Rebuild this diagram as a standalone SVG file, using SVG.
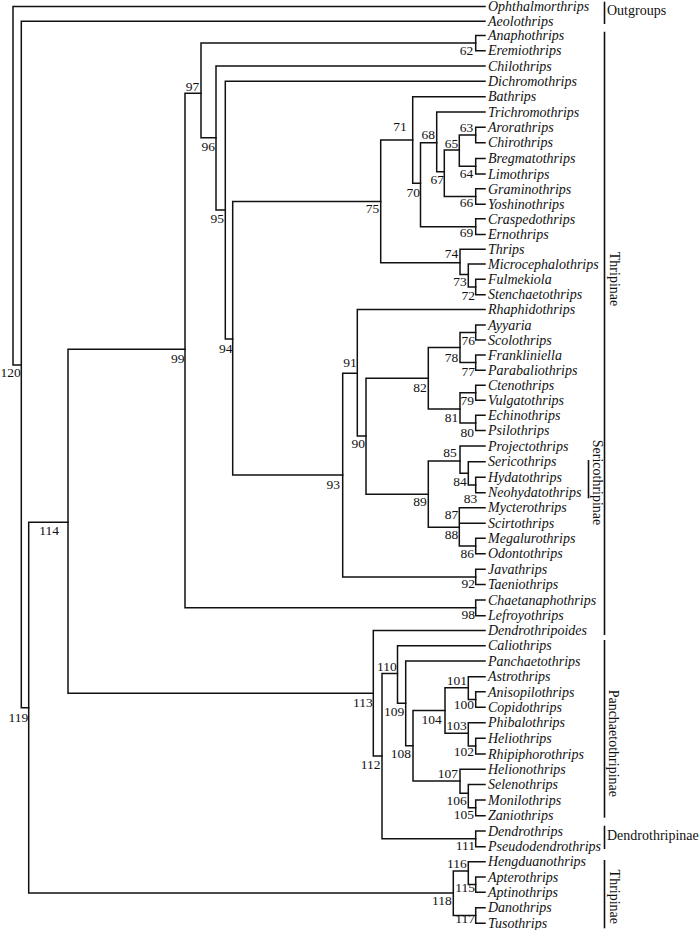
<svg xmlns="http://www.w3.org/2000/svg" width="700" height="930" viewBox="0 0 700 930">
<style>
.tip{font-family:"Liberation Serif","Times New Roman","DejaVu Serif",serif;font-style:italic;font-size:14px;fill:#111}
.num{font-family:"Liberation Serif","Times New Roman","DejaVu Serif",serif;font-size:13.5px;fill:#111;text-anchor:end}
.clade{font-family:"Liberation Serif","Times New Roman","DejaVu Serif",serif;font-size:14px;fill:#111}
.br{stroke:#111;stroke-width:1.5;fill:none;stroke-linecap:square}
.bk{stroke:#111;stroke-width:1.6;fill:none}
</style>
<rect width="700" height="930" fill="#fff"/>
<g id="connectors" class="br">
<path d="M13 6.5V365M13 6.5H485M13 365H21.3"/>
<path d="M21.3 21.3V707.7M21.3 21.3H485M21.3 707.7H28.7"/>
<path d="M28.7 522.3V893M28.7 522.3H68M28.7 893H453.3"/>
<path d="M68 349.3V693.3M68 349.3H185M68 693.3H373.3"/>
<path d="M185 93.3V607.8M185 93.3H201M185 607.8H475.7"/>
<path d="M201 42.9V137.7M201 42.9H475.7M201 137.7H216"/>
<path d="M475.7 35.5V50.7M475.7 35.5H485M475.7 50.7H485"/>
<path d="M216 66V210M216 66H485M216 210H225.3"/>
<path d="M225.3 81.2V339M225.3 81.2H485M225.3 339H232.7"/>
<path d="M232.7 201.5V475M232.7 201.5H380.7M232.7 475H342.7"/>
<path d="M380.7 140V262.7M380.7 140H412.7M380.7 262.7H460"/>
<path d="M412.7 96.7V183.3M412.7 96.7H485M412.7 183.3H420.5"/>
<path d="M420.5 142.7V226.7M420.5 142.7H436.7M420.5 226.7H475.7"/>
<path d="M436.7 112V171.7M436.7 112H485M436.7 171.7H444.3"/>
<path d="M444.3 150V196.5M444.3 150H459.3M444.3 196.5H475.7"/>
<path d="M459.3 135V166.2M459.3 135H475.7M459.3 166.2H475.7"/>
<path d="M475.7 127.3V142.7M475.7 127.3H485M475.7 142.7H485"/>
<path d="M475.7 158.5V174M475.7 158.5H485M475.7 174H485"/>
<path d="M475.7 188.8V204.3M475.7 188.8H485M475.7 204.3H485"/>
<path d="M475.7 218.8V234.5M475.7 218.8H485M475.7 234.5H485"/>
<path d="M460 249.3V274.5M460 249.3H485M460 274.5H468.3"/>
<path d="M468.3 264V287M468.3 264H485M468.3 287H475.7"/>
<path d="M475.7 279.2V294.7M475.7 279.2H485M475.7 294.7H485"/>
<path d="M342.7 373.3V576.9M342.7 373.3H357.3M342.7 576.9H475.7"/>
<path d="M357.3 309.5V436M357.3 309.5H485M357.3 436H366"/>
<path d="M366 378.3V494.3M366 378.3H428.3M366 494.3H428.3"/>
<path d="M428.3 347.6V408.9M428.3 347.6H460M428.3 408.9H460"/>
<path d="M460 332.5V362.6M460 332.5H475.7M460 362.6H475.7"/>
<path d="M475.7 325V340M475.7 325H485M475.7 340H485"/>
<path d="M475.7 355V370.2M475.7 355H485M475.7 370.2H485"/>
<path d="M460 392.8V422.9M460 392.8H475.7M460 422.9H475.7"/>
<path d="M475.7 385.3V400.3M475.7 385.3H485M475.7 400.3H485"/>
<path d="M475.7 415.3V430.5M475.7 415.3H485M475.7 430.5H485"/>
<path d="M428.3 461V527.3M428.3 461H460M428.3 527.3H459.3"/>
<path d="M460 446V473.3M460 446H485M460 473.3H468.3"/>
<path d="M468.3 461.7V485M468.3 461.7H485M468.3 485H475.7"/>
<path d="M475.7 477.3V492.7M475.7 477.3H485M475.7 492.7H485"/>
<path d="M459.3 507.7V546M459.3 507.7H485M459.3 523.3H485M459.3 546H475.7"/>
<path d="M475.7 538.3V553.7M475.7 538.3H485M475.7 553.7H485"/>
<path d="M475.7 569.3V584.5M475.7 569.3H485M475.7 584.5H485"/>
<path d="M475.7 600V615.7M475.7 600H485M475.7 615.7H485"/>
<path d="M373.3 630.5V756M373.3 630.5H485M373.3 756H382"/>
<path d="M382 673.5V838.8M382 673.5H397.5M382 838.8H475.7"/>
<path d="M397.5 645.7V703.3M397.5 645.7H485M397.5 703.3H405.7"/>
<path d="M405.7 661V745.7M405.7 661H485M405.7 745.7H413"/>
<path d="M413 710.5V781M413 710.5H445M413 781H460"/>
<path d="M445 687.7V733.3M445 687.7H468.3M445 733.3H468.3"/>
<path d="M468.3 676.7V699.5M468.3 676.7H485M468.3 699.5H475.7"/>
<path d="M475.7 691.8V707.3M475.7 691.8H485M475.7 707.3H485"/>
<path d="M468.3 722.7V746.1M468.3 722.7H485M468.3 746.1H475.7"/>
<path d="M475.7 738.3V754M475.7 738.3H485M475.7 754H485"/>
<path d="M460 769.3V793.3M460 769.3H485M460 793.3H468.3"/>
<path d="M468.3 784.5V807.8M468.3 784.5H485M468.3 807.8H475.7"/>
<path d="M475.7 800V815.7M475.7 800H485M475.7 815.7H485"/>
<path d="M475.7 831V846.7M475.7 831H485M475.7 846.7H485"/>
<path d="M453.3 871V915.5M453.3 871H468.3M453.3 915.5H475.7"/>
<path d="M468.3 861.7V884.6M468.3 861.7H485M468.3 884.6H475.7"/>
<path d="M475.7 877V892.3M475.7 877H485M475.7 892.3H485"/>
<path d="M475.7 907.7V923.3M475.7 907.7H485M475.7 923.3H485"/>
</g>
<g id="tips" class="tip">
<g id="tip-Ophthalmorthrips"><text x="488" y="11.2">Ophthalmorthrips</text></g>
<g id="tip-Aeolothrips"><text x="488" y="26">Aeolothrips</text></g>
<g id="tip-Anaphothrips"><text x="488" y="40.2">Anaphothrips</text></g>
<g id="tip-Eremiothrips"><text x="488" y="55.4">Eremiothrips</text></g>
<g id="tip-Chilothrips"><text x="488" y="70.7">Chilothrips</text></g>
<g id="tip-Dichromothrips"><text x="488" y="85.9">Dichromothrips</text></g>
<g id="tip-Bathrips"><text x="488" y="101.4">Bathrips</text></g>
<g id="tip-Trichromothrips"><text x="488" y="116.7">Trichromothrips</text></g>
<g id="tip-Arorathrips"><text x="488" y="132">Arorathrips</text></g>
<g id="tip-Chirothrips"><text x="488" y="147.4">Chirothrips</text></g>
<g id="tip-Bregmatothrips"><text x="488" y="163.2">Bregmatothrips</text></g>
<g id="tip-Limothrips"><text x="488" y="178.7">Limothrips</text></g>
<g id="tip-Graminothrips"><text x="488" y="193.5">Graminothrips</text></g>
<g id="tip-Yoshinothrips"><text x="488" y="209">Yoshinothrips</text></g>
<g id="tip-Craspedothrips"><text x="488" y="223.5">Craspedothrips</text></g>
<g id="tip-Ernothrips"><text x="488" y="239.2">Ernothrips</text></g>
<g id="tip-Thrips"><text x="488" y="254">Thrips</text></g>
<g id="tip-Microcephalothrips"><text x="488" y="268.7">Microcephalothrips</text></g>
<g id="tip-Fulmekiola"><text x="488" y="283.9">Fulmekiola</text></g>
<g id="tip-Stenchaetothrips"><text x="488" y="299.4">Stenchaetothrips</text></g>
<g id="tip-Rhaphidothrips"><text x="488" y="314.2">Rhaphidothrips</text></g>
<g id="tip-Ayyaria"><text x="488" y="329.7">Ayyaria</text></g>
<g id="tip-Scolothrips"><text x="488" y="344.7">Scolothrips</text></g>
<g id="tip-Frankliniella"><text x="488" y="359.7">Frankliniella</text></g>
<g id="tip-Parabaliothrips"><text x="488" y="374.9">Parabaliothrips</text></g>
<g id="tip-Ctenothrips"><text x="488" y="390">Ctenothrips</text></g>
<g id="tip-Vulgatothrips"><text x="488" y="405">Vulgatothrips</text></g>
<g id="tip-Echinothrips"><text x="488" y="420">Echinothrips</text></g>
<g id="tip-Psilothrips"><text x="488" y="435.2">Psilothrips</text></g>
<g id="tip-Projectothrips"><text x="488" y="450.7">Projectothrips</text></g>
<g id="tip-Sericothrips"><text x="488" y="466.4">Sericothrips</text></g>
<g id="tip-Hydatothrips"><text x="488" y="482">Hydatothrips</text></g>
<g id="tip-Neohydatothrips"><text x="488" y="497.4">Neohydatothrips</text></g>
<g id="tip-Mycterothrips"><text x="488" y="512.4">Mycterothrips</text></g>
<g id="tip-Scirtothrips"><text x="488" y="528">Scirtothrips</text></g>
<g id="tip-Megalurothrips"><text x="488" y="543">Megalurothrips</text></g>
<g id="tip-Odontothrips"><text x="488" y="558.4">Odontothrips</text></g>
<g id="tip-Javathrips"><text x="488" y="574">Javathrips</text></g>
<g id="tip-Taeniothrips"><text x="488" y="589.2">Taeniothrips</text></g>
<g id="tip-Chaetanaphothrips"><text x="488" y="604.7">Chaetanaphothrips</text></g>
<g id="tip-Lefroyothrips"><text x="488" y="620.4">Lefroyothrips</text></g>
<g id="tip-Dendrothripoides"><text x="488" y="635.2">Dendrothripoides</text></g>
<g id="tip-Caliothrips"><text x="488" y="650.4">Caliothrips</text></g>
<g id="tip-Panchaetothrips"><text x="488" y="665.7">Panchaetothrips</text></g>
<g id="tip-Astrothrips"><text x="488" y="681.4">Astrothrips</text></g>
<g id="tip-Anisopilothrips"><text x="488" y="696.5">Anisopilothrips</text></g>
<g id="tip-Copidothrips"><text x="488" y="712">Copidothrips</text></g>
<g id="tip-Phibalothrips"><text x="488" y="727.4">Phibalothrips</text></g>
<g id="tip-Heliothrips"><text x="488" y="743">Heliothrips</text></g>
<g id="tip-Rhipiphorothrips"><text x="488" y="758.7">Rhipiphorothrips</text></g>
<g id="tip-Helionothrips"><text x="488" y="774">Helionothrips</text></g>
<g id="tip-Selenothrips"><text x="488" y="789.2">Selenothrips</text></g>
<g id="tip-Monilothrips"><text x="488" y="804.7">Monilothrips</text></g>
<g id="tip-Zaniothrips"><text x="488" y="820.4">Zaniothrips</text></g>
<g id="tip-Dendrothrips"><text x="488" y="835.7">Dendrothrips</text></g>
<g id="tip-Pseudodendrothrips"><text x="488" y="851.4">Pseudodendrothrips</text></g>
<g id="tip-Hengduanothrips"><text x="488" y="866.4">Hengduanothrips</text></g>
<g id="tip-Apterothrips"><text x="488" y="881.7">Apterothrips</text></g>
<g id="tip-Aptinothrips"><text x="488" y="897">Aptinothrips</text></g>
<g id="tip-Danothrips"><text x="488" y="912.4">Danothrips</text></g>
<g id="tip-Tusothrips"><text x="488" y="928">Tusothrips</text></g>
</g>
<g id="node-labels" class="num">
<g id="n120"><text x="20.7" y="377">120</text></g>
<g id="n119"><text x="28.3" y="722">119</text></g>
<g id="n114"><text x="59" y="535">114</text></g>
<g id="n99"><text x="184.5" y="362.5">99</text></g>
<g id="n97"><text x="199.3" y="90.7">97</text></g>
<g id="n96"><text x="215" y="150.7">96</text></g>
<g id="n95"><text x="224" y="223.3">95</text></g>
<g id="n94"><text x="232.5" y="352.5">94</text></g>
<g id="n75"><text x="379.3" y="213">75</text></g>
<g id="n71"><text x="406.7" y="130.7">71</text></g>
<g id="n70"><text x="420" y="196.7">70</text></g>
<g id="n68"><text x="435" y="139.3">68</text></g>
<g id="n67"><text x="444" y="184.3">67</text></g>
<g id="n65"><text x="458.3" y="148.3">65</text></g>
<g id="n63"><text x="473.3" y="131.7">63</text></g>
<g id="n64"><text x="473.3" y="178.3">64</text></g>
<g id="n66"><text x="473.3" y="206.7">66</text></g>
<g id="n69"><text x="473.3" y="236.7">69</text></g>
<g id="n74"><text x="458.3" y="258.3">74</text></g>
<g id="n73"><text x="466.7" y="285.7">73</text></g>
<g id="n72"><text x="475" y="300">72</text></g>
<g id="n62"><text x="473.3" y="55">62</text></g>
<g id="n93"><text x="340" y="489.3">93</text></g>
<g id="n91"><text x="356.7" y="366.7">91</text></g>
<g id="n90"><text x="365" y="448.3">90</text></g>
<g id="n82"><text x="426.7" y="391.7">82</text></g>
<g id="n78"><text x="458.3" y="361.7">78</text></g>
<g id="n76"><text x="475" y="345">76</text></g>
<g id="n77"><text x="475" y="376">77</text></g>
<g id="n81"><text x="458.3" y="421.7">81</text></g>
<g id="n79"><text x="474" y="405">79</text></g>
<g id="n80"><text x="474" y="436.7">80</text></g>
<g id="n89"><text x="426.7" y="505.7">89</text></g>
<g id="n85"><text x="456.7" y="456.7">85</text></g>
<g id="n84"><text x="466.7" y="485.7">84</text></g>
<g id="n83"><text x="477.3" y="503.3">83</text></g>
<g id="n87"><text x="458.3" y="519">87</text></g>
<g id="n88"><text x="458.3" y="539">88</text></g>
<g id="n86"><text x="474" y="558.3">86</text></g>
<g id="n92"><text x="475" y="588.3">92</text></g>
<g id="n98"><text x="475" y="619">98</text></g>
<g id="n113"><text x="372.7" y="706.7">113</text></g>
<g id="n112"><text x="380.5" y="768.5">112</text></g>
<g id="n110"><text x="396.7" y="670.7">110</text></g>
<g id="n109"><text x="404.3" y="716">109</text></g>
<g id="n108"><text x="411" y="758.3">108</text></g>
<g id="n104"><text x="441.7" y="724">104</text></g>
<g id="n101"><text x="467" y="685">101</text></g>
<g id="n100"><text x="474" y="709.3">100</text></g>
<g id="n103"><text x="466.7" y="730">103</text></g>
<g id="n102"><text x="474" y="756">102</text></g>
<g id="n107"><text x="458" y="778.3">107</text></g>
<g id="n106"><text x="466.7" y="805">106</text></g>
<g id="n105"><text x="474" y="819">105</text></g>
<g id="n111"><text x="475" y="849.7">111</text></g>
<g id="n116"><text x="466.7" y="868.3">116</text></g>
<g id="n115"><text x="475" y="891.7">115</text></g>
<g id="n118"><text x="451.7" y="905">118</text></g>
<g id="n117"><text x="475" y="923.3">117</text></g>
</g>
<g id="clades" class="clade">
<g id="clade-outgroups"><path class="bk" d="M604.5 1.7V24"/><text x="607" y="14.5">Outgroups</text></g>
<g id="clade-thripinae-1"><path class="bk" d="M604.5 31.7V635"/><text transform="translate(609.5 279) rotate(90)" text-anchor="middle">Thripinae</text></g>
<g id="clade-sericothripinae"><path class="bk" d="M588.5 460V498.3"/><text transform="translate(593 482.5) rotate(90)" text-anchor="middle">Sericothripinae</text></g>
<g id="clade-panchaetothripinae"><path class="bk" d="M604.5 640V817.7"/><text transform="translate(609 743.3) rotate(90)" text-anchor="middle">Panchaetothripinae</text></g>
<g id="clade-dendrothripinae"><path class="bk" d="M604.5 825.7V849"/><text x="607" y="840">Dendrothripinae</text></g>
<g id="clade-thripinae-2"><path class="bk" d="M604.5 860V928.3"/><text transform="translate(609.5 896.8) rotate(90)" text-anchor="middle">Thripinae</text></g>
</g>
</svg>
